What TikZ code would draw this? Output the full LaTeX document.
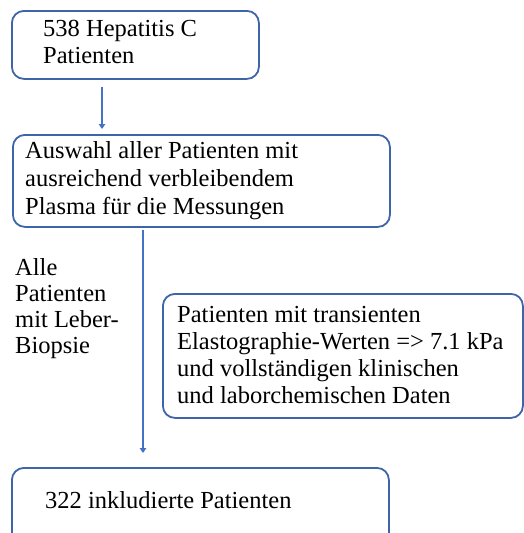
\documentclass[tikz,border=0pt]{standalone}
\usepackage{fontspec}
\setmainfont{Liberation Serif}
\usetikzlibrary{arrows.meta}
\definecolor{boxblue}{RGB}{62,100,170}
\definecolor{arrblue}{RGB}{68,114,196}
\begin{document}
\begin{tikzpicture}[x=1pt,y=-1pt,
  box/.style={draw=boxblue,line width=1.8pt,rounded corners=12pt,inner sep=0pt,anchor=north west},
  txt/.style={anchor=base west,inner sep=0pt,align=left,font=\fontsize{24.5}{27}\selectfont},
  arr/.style={draw=arrblue,line width=1.6pt,-{Triangle[length=5pt,width=6.5pt]}}]
\useasboundingbox[fill=white] (0,0) rectangle (523,533);
% boxes
\node[box,minimum width=247pt,minimum height=68pt] (b1) at (11,10) {};
\node[box,minimum width=377pt,minimum height=92pt] (b2) at (12,134) {};
\node[box,minimum width=360pt,minimum height=124pt] (b3) at (162,293) {};
\node[box,minimum width=377pt,minimum height=95pt] (b4) at (11,467) {};
% texts (anchored at the baseline of their last line)
\node[txt] (t1) at (43,63) {538 Hepatitis C\\Patienten};
\node[txt,font=\fontsize{24.5}{28}\selectfont] (t2) at (25,214) {Auswahl aller Patienten mit\\ausreichend verbleibendem\\Plasma für die Messungen};
\node[txt,font=\fontsize{24.5}{26}\selectfont] (t5) at (15,353) {Alle\\Patienten\\mit Leber-\\Biopsie};
\node[txt] (t3) at (177,403) {Patienten mit transienten\\Elastographie-Werten => 7.1 kPa\\und vollständigen klinischen\\und laborchemischen Daten};
\node[txt] (t4) at (45,508) {322 inkludierte Patienten};
% connectors
\coordinate (x1) at (102,0);
\coordinate (x2) at (143,0);
\draw[arr,shorten <=7pt,shorten >=5pt] (b1.south -| x1) -- (b2.north -| x1);
\draw[arr,shorten <=2pt,shorten >=14pt] (b2.south -| x2) -- (b4.north -| x2);
\end{tikzpicture}
\end{document}
